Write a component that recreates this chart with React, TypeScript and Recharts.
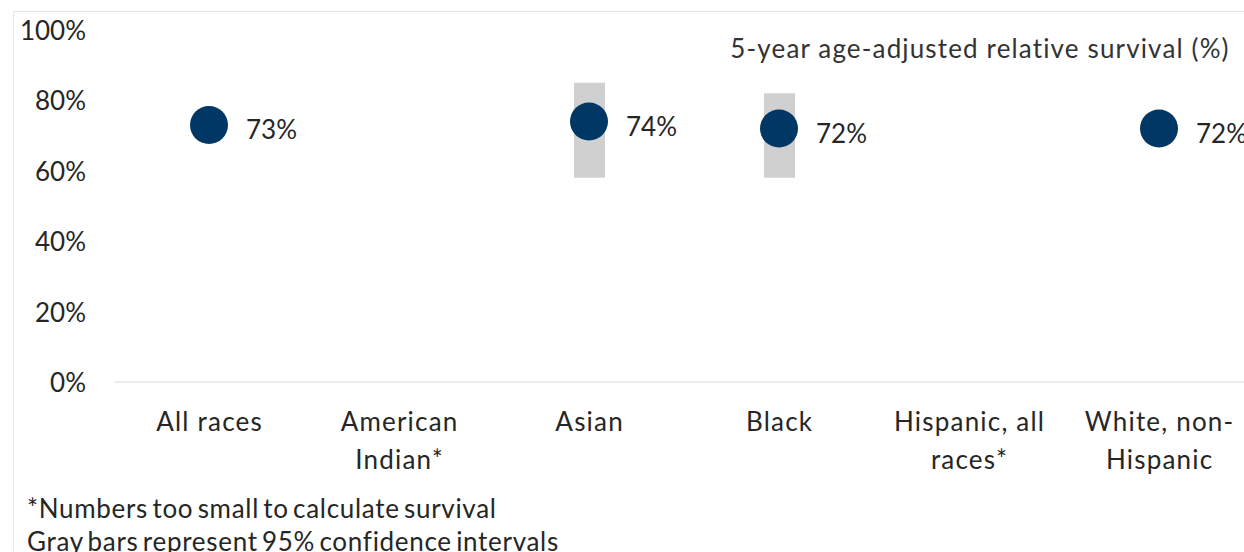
import React from 'react';
import { ComposedChart, Bar, Line, XAxis, YAxis, LabelList } from 'recharts';

const categories = ['All races', 'American Indian*', 'Asian', 'Black', 'Hispanic, all races*', 'White, non-Hispanic'];
const tickLines = [['All races'], ['American', 'Indian*'], ['Asian'], ['Black'], ['Hispanic, all', 'races*'], ['White, non-', 'Hispanic']];
const survival = [73, null, 74, 72, null, 72];
const ciLow = [null, null, 58, 58, null, null];
const ciHigh = [null, null, 85, 82, null, null];
const yTicks = [0, 20, 40, 60, 80, 100];
const title = '5-year age-adjusted relative survival (%)';
const footnotes = ['*Numbers too small to calculate survival', 'Gray bars represent 95% confidence intervals'];

const data = categories.map((c, i) => ({
  category: c,
  survival: survival[i],
  ci: ciLow[i] == null ? null : [ciLow[i], ciHigh[i]],
}));

const FONT = 'Lato, "Open Sans", sans-serif';
const FS = 26;
const TEXT = '#262626';
const NAVY = '#003764';
const GRAY = '#d0d0d0';

const XTick = (props: any) => {
  const { x, y, payload, index } = props;
  const lines = tickLines[index] ?? [String(payload.value)];
  return (
    <g>
      {lines.map((l: string, k: number) => (
        <text key={k} x={x + 0.6} y={y + 39 + k * 38} textAnchor="middle" dominantBaseline="central"
          fontFamily={FONT} fontSize={FS} fill={TEXT} letterSpacing={1.2}>{l}</text>
      ))}
    </g>
  );
};

const YTick = (props: any) => {
  const { x, y, payload } = props;
  return (
    <text x={x} y={y} textAnchor="end" dominantBaseline="central" fontFamily={FONT} fontSize={FS} fill={TEXT}>
      {payload.value}%
    </text>
  );
};

const DotShape = (props: any) => {
  const { cx, cy, index } = props;
  if (cy == null || cx == null || isNaN(cy)) return <g key={`d${index}`} />;
  return <circle key={`d${index}`} cx={cx} cy={cy} r={19} fill={NAVY} />;
};

const ValueLabel = (props: any) => {
  const { x, y, value } = props;
  if (value == null || y == null) return null;
  return (
    <text x={x + 37} y={y + 4} textAnchor="start" dominantBaseline="central" fontFamily={FONT} fontSize={FS} fill={TEXT}>
      {value}%
    </text>
  );
};

export default function App() {
  return (
    <div style={{ position: 'relative', width: 1244, height: 552, overflow: 'hidden', background: '#fff' }}>
      <style>{`html,body{margin:0;padding:0;overflow:hidden;background:#fff}`}</style>
      <div style={{ position: 'absolute', left: 13, top: 11, right: -20, bottom: -20, borderTop: '1px solid #e3e3e3', borderLeft: '1px dotted #d6d6d6' }} />
      <div style={{ position: 'absolute', left: 0, top: 0 }}>
        <ComposedChart width={1254} height={552} data={data} margin={{ top: 30, right: 0, bottom: 0, left: 0 }}>
          <XAxis dataKey="category" interval={0} height={170} tickLine={false} tickSize={0} tickMargin={0}
            axisLine={{ stroke: '#d9d9d9', strokeWidth: 1 }} tick={<XTick />} />
          <YAxis domain={[0, 100]} ticks={yTicks} width={114} axisLine={false} tickLine={false} tickSize={0}
            tickMargin={28} tick={<YTick />} />
          <Bar dataKey="ci" fill={GRAY} barSize={31} isAnimationActive={false} />
          <Line dataKey="survival" stroke="none" isAnimationActive={false} dot={<DotShape />} activeDot={false} connectNulls={false}>
            <LabelList dataKey="survival" content={<ValueLabel />} />
          </Line>
        </ComposedChart>
      </div>
      <div style={{ position: 'absolute', left: 980, top: 48, transform: 'translate(-50%,-50%)', whiteSpace: 'nowrap', fontFamily: FONT, fontSize: FS, color: '#333', lineHeight: 1, letterSpacing: 1.15 }}>
        {title}
      </div>
      {footnotes.map((f, i) => (
        <div key={i} style={{ position: 'absolute', left: 27, top: 508 + i * 33, transform: 'translateY(-50%)', whiteSpace: 'nowrap', fontFamily: FONT, fontSize: FS, color: TEXT, lineHeight: 1, letterSpacing: 0.7, wordSpacing: -3 }}>
          {f}
        </div>
      ))}
    </div>
  );
}
